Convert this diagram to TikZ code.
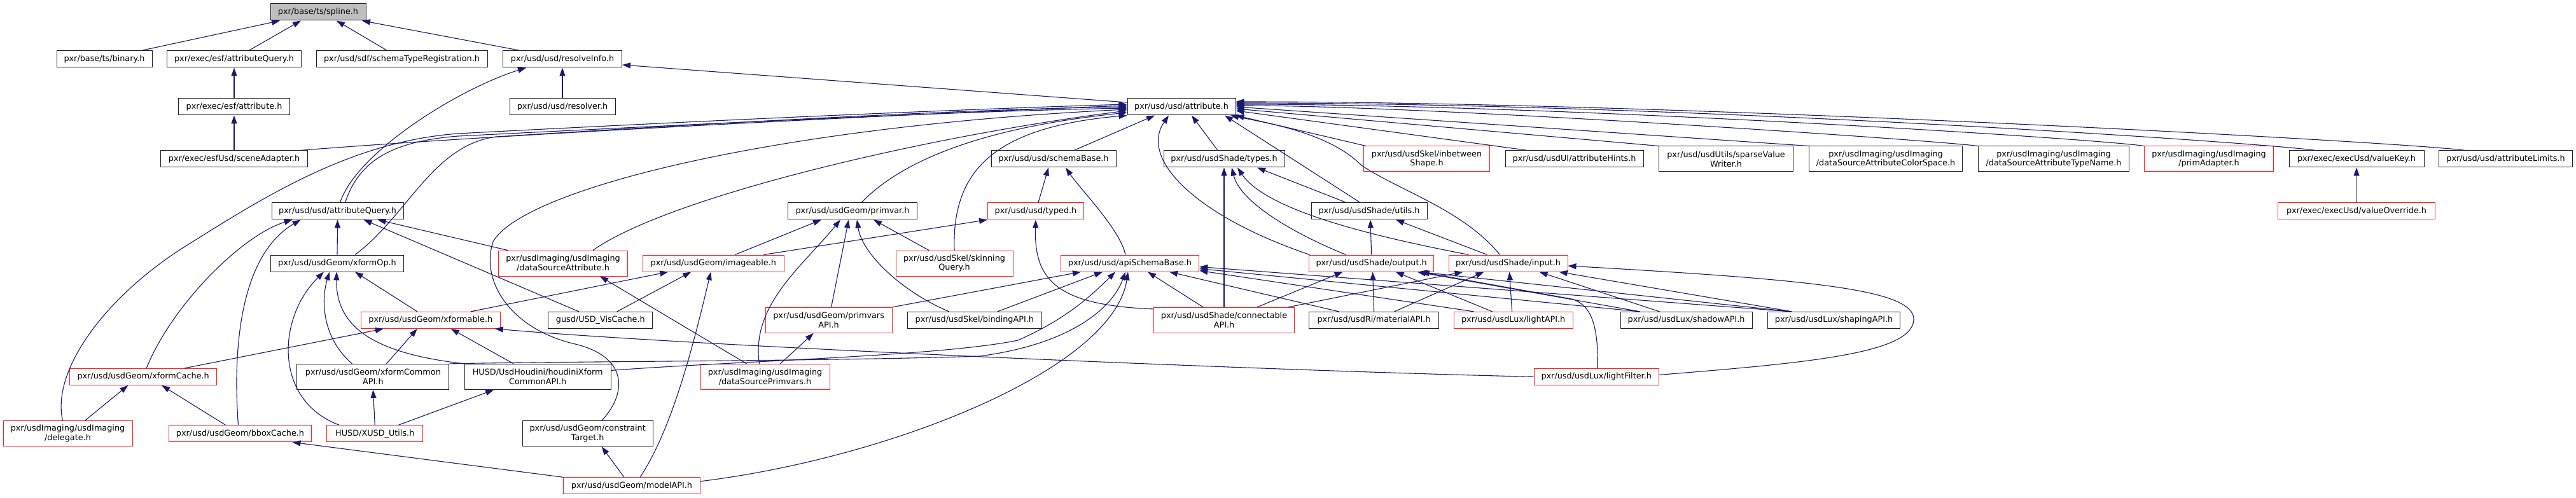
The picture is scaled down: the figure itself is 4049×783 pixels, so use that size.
\documentclass[tikz,border=0pt]{standalone}
\usepackage{fontspec}
\setmainfont{DejaVu Sans}
\usetikzlibrary{arrows.meta}
\definecolor{edgec}{HTML}{191970}
\definecolor{rootfill}{HTML}{BFBFBF}
\definecolor{redc}{HTML}{FF2020}
\definecolor{boxc}{HTML}{202020}
\begin{document}
\begin{tikzpicture}[x=1pt,y=-1pt,
  every node/.style={font=\fontsize{12.8pt}{14.7pt}\selectfont},
  box/.style={draw=boxc, fill=white, line width=1pt, inner xsep=3pt, inner ysep=0pt, minimum height=26pt, align=center},
  box2/.style={box, minimum height=40pt},
  redbox/.style={box, draw=redc},
  redbox2/.style={box2, draw=redc},
  rootbox/.style={box, fill=rootfill},
  dep/.style={draw=edgec, line width=1.1pt, -{Triangle[length=13pt,width=9pt]}}]
\useasboundingbox (0,0) rectangle (4049,783);
% row 1
\node[rootbox, minimum width=150pt] (spline) at (500,19) {pxr/base/ts/spline.h};
% row 2
\node[box, minimum width=150pt] (binary) at (164,93) {pxr/base/ts/binary.h};
\node[box, minimum width=211pt] (esfAQ) at (368,93) {pxr/exec/esf/attributeQuery.h};
\node[box, minimum width=269pt] (schemaReg) at (631.5,93) {pxr/usd/sdf/schemaTypeRegistration.h};
\node[box, minimum width=187pt] (resolveInfo) at (884,93) {pxr/usd/usd/resolveInfo.h};
% row 3
\node[box, minimum width=175pt] (esfAttr) at (368,168) {pxr/exec/esf/attribute.h};
\node[box, minimum width=166pt] (resolver) at (884,168) {pxr/usd/usd/resolver.h};
\node[box, minimum width=170pt] (attr) at (1857,168) {pxr/usd/usd/attribute.h};
% row 4
\node[box, minimum width=231pt] (sceneAd) at (368,250) {pxr/exec/esfUsd/sceneAdapter.h};
\node[box, minimum width=196pt] (schemaBase) at (1656,250) {pxr/usd/usd/schemaBase.h};
\node[box, minimum width=190pt] (shadeTypes) at (1924,250) {pxr/usd/usdShade/types.h};
\node[redbox2, minimum width=198pt] (inbetween) at (2242.5,250) {pxr/usd/usdSkel/inbetween\\Shape.h};
\node[box, minimum width=217pt] (attrHints) at (2474.6,250) {pxr/usd/usdUI/attributeHints.h};
\node[box2, minimum width=211pt] (sparse) at (2713,250) {pxr/usd/usdUtils/sparseValue\\Writer.h};
\node[box2, minimum width=241.5pt] (dsColor) at (2964,250) {pxr/usdImaging/usdImaging\\/dataSourceAttributeColorSpace.h};
\node[box2, minimum width=237.5pt] (dsType) at (3228,250) {pxr/usdImaging/usdImaging\\/dataSourceAttributeTypeName.h};
\node[redbox2, minimum width=203pt] (primAd) at (3472,250) {pxr/usdImaging/usdImaging\\/primAdapter.h};
\node[box, minimum width=212pt] (valueKey) at (3704,250) {pxr/exec/execUsd/valueKey.h};
\node[box, minimum width=210pt] (attrLimits) at (3938.5,250) {pxr/usd/usd/attributeLimits.h};
% row 5
\node[box, minimum width=207pt] (usdAQ) at (530.6,332) {pxr/usd/usd/attributeQuery.h};
\node[box, minimum width=203pt] (primvar) at (1340,332) {pxr/usd/usdGeom/primvar.h};
\node[redbox, minimum width=151pt] (typed) at (1628,332) {pxr/usd/usd/typed.h};
\node[box, minimum width=182pt] (shadeUtils) at (2152,332) {pxr/usd/usdShade/utils.h};
\node[redbox, minimum width=247pt] (valueOverride) at (3704,332) {pxr/exec/execUsd/valueOverride.h};
% row 6
\node[box, minimum width=209pt] (xformOp) at (530,414) {pxr/usd/usdGeom/xformOp.h};
\node[redbox2, minimum width=203pt] (dsAttr) at (885,414) {pxr/usdImaging/usdImaging\\/dataSourceAttribute.h};
\node[redbox, minimum width=222pt] (imageable) at (1121.3,414) {pxr/usd/usdGeom/imageable.h};
\node[redbox2, minimum width=184pt] (skinning) at (1500,414) {pxr/usd/usdSkel/skinning\\Query.h};
\node[redbox, minimum width=217.5pt] (apiSB) at (1776,414) {pxr/usd/usd/apiSchemaBase.h};
\node[redbox, minimum width=195.5pt] (output) at (2155.6,414) {pxr/usd/usdShade/output.h};
\node[redbox, minimum width=187pt] (input) at (2370.5,414) {pxr/usd/usdShade/input.h};
% row 7
\node[redbox, minimum width=219pt] (xformable) at (676.8,503.4) {pxr/usd/usdGeom/xformable.h};
\node[box, minimum width=164.3pt] (visCache) at (943.8,503.4) {gusd/USD\_VisCache.h};
\node[redbox2, minimum width=199pt] (primvarsAPI) at (1302.6,503.4) {pxr/usd/usdGeom/primvars\\API.h};
\node[box, minimum width=211.6pt] (bindingAPI) at (1531.8,503.4) {pxr/usd/usdSkel/bindingAPI.h};
\node[redbox2, minimum width=220.5pt] (connAPI) at (1924,503.4) {pxr/usd/usdShade/connectable\\API.h};
\node[box, minimum width=203.5pt] (materialAPI) at (2159.6,503.4) {pxr/usd/usdRi/materialAPI.h};
\node[redbox, minimum width=187pt] (lightAPI) at (2378.6,503.4) {pxr/usd/usdLux/lightAPI.h};
\node[box, minimum width=207pt] (shadowAPI) at (2650.5,503.4) {pxr/usd/usdLux/shadowAPI.h};
\node[box, minimum width=208pt] (shapingAPI) at (2882.5,503.4) {pxr/usd/usdLux/shapingAPI.h};
% row 8
\node[redbox, minimum width=231pt] (xformCache) at (225.2,592.4) {pxr/usd/usdGeom/xformCache.h};
\node[box2, minimum width=239pt] (xformCommon) at (586.4,592.4) {pxr/usd/usdGeom/xformCommon\\API.h};
\node[box2, minimum width=230.4pt] (houdini) at (845.2,592.4) {HUSD/UsdHoudini/houdiniXform\\CommonAPI.h};
\node[redbox2, minimum width=203pt] (dsPrimvars) at (1202.5,592.4) {pxr/usdImaging/usdImaging\\/dataSourcePrimvars.h};
\node[redbox, minimum width=196.4pt] (lightFilter) at (2509.2,592.4) {pxr/usd/usdLux/lightFilter.h};
% row 9
\node[redbox2, minimum width=203pt] (delegate) at (106.5,681.8) {pxr/usdImaging/usdImaging\\/delegate.h};
\node[redbox, minimum width=224.5pt] (bboxCache) at (377.5,681.8) {pxr/usd/usdGeom/bboxCache.h};
\node[redbox, minimum width=151pt] (xusd) at (589.3,681.8) {HUSD/XUSD\_Utils.h};
\node[box2, minimum width=205.4pt] (constraint) at (923.7,681.8) {pxr/usd/usdGeom/constraint\\Target.h};
% row 10
\node[redbox, minimum width=214.7pt] (modelAPI) at (993,763.8) {pxr/usd/usdGeom/modelAPI.h};

% ---- edges to spline
\draw[dep] ([xshift=58pt]binary.north) -- ([xshift=-60pt]spline.south);
\draw[dep] ([xshift=23pt]esfAQ.north) -- ([xshift=-27pt]spline.south);
\draw[dep] ([xshift=-23pt]schemaReg.north) -- ([xshift=29pt]spline.south);
\draw[dep] ([xshift=-66pt]resolveInfo.north) -- ([xshift=69pt]spline.south);
\draw[dep] (esfAttr.north) -- (esfAQ.south);
\draw[dep] (sceneAd.north) -- (esfAttr.south);
\draw[dep] (resolver.north) -- (resolveInfo.south);
\draw[dep] ([yshift=7pt]attr.west) -- ([yshift=-9pt]resolveInfo.east);
\draw[dep] ([xshift=4pt]usdAQ.north) .. controls (560,240) and (720,140) .. ([xshift=-57pt]resolveInfo.south);
% ---- edges to attribute (left)
\draw[dep] ([xshift=12pt]usdAQ.north) .. controls (565,250) and (620,222) .. (720,214) .. controls (1100,195) and (1500,175) .. ([yshift=-2pt]attr.west);
\draw[dep] ([xshift=103pt]sceneAd.north) .. controls (800,210) and (1500,176) .. ([yshift=2pt]attr.west);
\draw[dep] ([xshift=-8pt]delegate.north) .. controls (80,580) and (170,460) .. (303,380) .. controls (430,300) and (560,222) .. (720,210) .. controls (1100,190) and (1500,172) .. ([yshift=4pt]attr.west);
\draw[dep] ([xshift=28pt]xformOp.north) .. controls (640,340) and (680,228) .. (780,215) .. controls (1100,195) and (1500,172) .. (attr.west);
\draw[dep] ([xshift=22pt]constraint.north) .. controls (985,620) and (990,560) .. (900,540) .. controls (800,515) and (755,440) .. (775,380) .. controls (820,300) and (1200,200) .. ([yshift=-4pt]attr.west);
\draw[dep] ([xshift=47pt]dsAttr.north) .. controls (1050,310) and (1450,215) .. ([yshift=-6pt]attr.west);
\draw[dep] ([xshift=14pt]primvar.north) .. controls (1420,250) and (1550,200) .. ([yshift=-9pt]attr.west);
\draw[dep] (skinning.north) .. controls (1496,270) and (1560,200) .. (attr.south west);
% ---- edges to attribute (bottom)
\draw[dep] ([xshift=32pt]schemaBase.north) -- ([xshift=-42pt]attr.south);
\draw[dep] ([xshift=-10pt]shadeTypes.north) -- ([xshift=16pt]attr.south);
\draw[dep] ([xshift=-97pt]output.north) .. controls (1880,340) and (1790,250) .. ([xshift=-20pt]attr.south);
\draw[dep] ([xshift=-13pt]input.north) .. controls (2300,330) and (2200,300) .. (2140,260) .. controls (2090,210) and (2000,195) .. ([xshift=77pt]attr.south);
\draw[dep] ([xshift=-14pt]shadeUtils.north) -- ([xshift=68pt]attr.south);
\draw[dep] ([xshift=4pt]inbetween.north west) -- (attr.south east);
% ---- edges to attribute (right)
\draw[dep] ([xshift=-73pt]attrHints.north) -- ([yshift=-6pt]attr.east);
\draw[dep] (sparse.north west) -- ([yshift=-3pt]attr.east);
\draw[dep] (dsColor.north west) -- (attr.east);
\draw[dep] (dsType.north west) .. controls +(-80,-10) and +(300,0) .. ([yshift=2pt]attr.east);
\draw[dep] (primAd.north west) .. controls +(-80,-12) and +(500,0) .. ([yshift=4pt]attr.east);
\draw[dep] ([xshift=-64pt]valueKey.north) .. controls +(-80,-12) and +(700,0) .. ([yshift=6pt]attr.east);
\draw[dep] ([xshift=-63pt]attrLimits.north) .. controls +(-80,-12) and +(700,0) .. ([yshift=8pt]attr.east);
\draw[dep] (valueOverride.north) -- (valueKey.south);
% ---- usd attributeQuery
\draw[dep] (xformOp.north) -- (usdAQ.south);
\draw[dep] ([xshift=5pt]xformCache.north) .. controls (270,480) and (380,370) .. ([xshift=-71pt]usdAQ.south);
\draw[dep] ([xshift=-3pt]bboxCache.north) .. controls (365,540) and (380,400) .. ([xshift=-58pt]usdAQ.south);
\draw[dep] ([xshift=-34pt]visCache.north) -- ([xshift=41pt]usdAQ.south);
\draw[dep] ([xshift=-87pt]dsAttr.north) -- ([xshift=63pt]usdAQ.south);
% ---- xformOp
\draw[dep] ([xshift=-56pt]xusd.north) .. controls (430,630) and (435,500) .. ([xshift=-21pt]xformOp.south);
\draw[dep] ([xshift=-33pt]xformCommon.north) .. controls (505,530) and (505,470) .. ([xshift=-12pt]xformOp.south);
\draw[dep] ([xshift=-115pt]houdini.north) .. controls (580,555) and (528,510) .. ([xshift=-1pt]xformOp.south);
\draw[dep] ([xshift=-21pt]xformable.north) -- ([xshift=28pt]xformOp.south);
% ---- xformable
\draw[dep] ([xshift=65pt]xformCache.north) -- ([xshift=-74pt]xformable.south);
\draw[dep] ([xshift=21pt]xformCommon.north) -- ([xshift=-21pt]xformable.south);
\draw[dep] ([xshift=-38pt]houdini.north) -- ([xshift=32pt]xformable.south);
\draw[dep] (lightFilter.west) .. controls (2000,583) and (1100,545) .. ([xshift=101pt]xformable.south);
% ---- apiSchemaBase from the left
\draw[dep] ([yshift=10pt]houdini.east) .. controls (1150,568) and (1480,560) .. (1600,535) .. controls (1680,500) and (1720,460) .. ([xshift=-23pt]apiSB.south);
\draw[dep] (xformCommon.north east) .. controls (900,568) and (1300,568) .. (1540,560) .. controls (1690,540) and (1750,480) .. ([xshift=-7pt]apiSB.south);
\draw[dep] ([yshift=7pt]modelAPI.east) .. controls (1400,720) and (1750,580) .. ([xshift=-3pt]apiSB.south);
% ---- modelAPI
\draw[dep] (modelAPI.north west) -- ([xshift=82pt]bboxCache.south);
\draw[dep] ([xshift=-12pt]modelAPI.north) -- ([xshift=22pt]constraint.south);
\draw[dep] ([xshift=13pt]modelAPI.north) .. controls (1060,670) and (1095,520) .. ([xshift=-4pt]imageable.south);
% ---- imageable
\draw[dep] ([xshift=34pt]imageable.north) -- ([xshift=-49pt]primvar.south);
\draw[dep] ([xshift=79pt]imageable.north) -- (typed.south west);
\draw[dep] ([xshift=63pt]xformable.north) -- ([xshift=-71pt]imageable.south);
\draw[dep] ([xshift=26pt]visCache.north) -- ([xshift=-35pt]imageable.south);
% ---- primvar
\draw[dep] ([xshift=-9pt]dsPrimvars.north) .. controls (1180,480) and (1260,420) .. ([xshift=-19pt]primvar.south);
\draw[dep] ([xshift=4pt]primvarsAPI.north) -- ([xshift=-6pt]primvar.south);
\draw[dep] ([xshift=-40pt]bindingAPI.north) .. controls (1420,460) and (1355,400) .. ([xshift=7pt]primvar.south);
\draw[dep] ([xshift=-40pt]skinning.north) -- ([xshift=33pt]primvar.south);
% ---- typed, schemaBase
\draw[dep] ([xshift=4pt]typed.north) -- ([xshift=-8pt]schemaBase.south);
\draw[dep] ([yshift=-3pt]connAPI.north west) .. controls (1660,480) and (1625,440) .. (typed.south);
\draw[dep] ([xshift=-7pt]apiSB.north) .. controls (1760,360) and (1700,300) .. ([xshift=19pt]schemaBase.south);
% ---- usdShade types / utils
\draw[dep] (connAPI.north) -- (shadeTypes.south);
\draw[dep] ([xshift=-36pt]shadeUtils.north) -- ([xshift=52pt]shadeTypes.south);
\draw[dep] ([xshift=-40pt]output.north) .. controls (2040,370) and (1950,320) .. ([xshift=12pt]shadeTypes.south);
\draw[dep] ([xshift=-62pt]input.north) .. controls (2150,370) and (1990,330) .. ([xshift=21pt]shadeTypes.south);
\draw[dep] (output.north) -- ([xshift=2pt]shadeUtils.south);
\draw[dep] ([xshift=-33pt]input.north) -- ([xshift=42pt]shadeUtils.south);
% ---- apiSchemaBase from below
\draw[dep] (primvarsAPI.north east) -- ([xshift=-77pt]apiSB.south);
\draw[dep] ([xshift=36pt]bindingAPI.north) -- ([xshift=-43pt]apiSB.south);
\draw[dep] ([xshift=-33pt]connAPI.north) -- ([xshift=28pt]apiSB.south);
\draw[dep] ([xshift=-55pt]materialAPI.north) -- ([xshift=62pt]apiSB.south);
\draw[dep] ([xshift=-62pt]lightAPI.north) -- ([yshift=2pt]apiSB.south east);
\draw[dep] ([xshift=-73pt]shadowAPI.north) -- ([yshift=5pt]apiSB.south east);
\draw[dep] ([xshift=-67pt]shapingAPI.north) -- ([yshift=8pt]apiSB.south east);
% ---- output
\draw[dep] ([xshift=52pt]connAPI.north) -- ([xshift=-45pt]output.south);
\draw[dep] (materialAPI.north) -- ([xshift=2pt]output.south);
\draw[dep] ([xshift=-33pt]lightAPI.north) -- ([xshift=38pt]output.south);
\draw[dep] ([xshift=-73pt]shadowAPI.north) -- ([xshift=72pt]output.south);
\draw[dep] ([xshift=-67pt]shapingAPI.north) -- ([xshift=75pt]output.south);
\draw[dep] ([xshift=2pt]lightFilter.north) .. controls (2512,520) and (2505,480) .. (2470,470) -- ([xshift=78pt]output.south);
% ---- input
\draw[dep] ([xshift=101pt]connAPI.north) -- ([xshift=-71pt]input.south);
\draw[dep] ([xshift=32pt]materialAPI.north) -- ([xshift=-38pt]input.south);
\draw[dep] ([xshift=-2pt]lightAPI.north) -- ([xshift=2pt]input.south);
\draw[dep] ([xshift=-42pt]shadowAPI.north) -- ([xshift=49pt]input.south);
\draw[dep] ([xshift=-66pt]shapingAPI.north) -- ([xshift=80pt]input.south);
\draw[dep] ([yshift=3pt]lightFilter.east) .. controls (2850,570) and (3005,555) .. (3008,503) .. controls (3010,455) and (2850,440) .. ([yshift=-4pt]input.east);
% ---- dataSource
\draw[dep] ([xshift=-29pt]dsPrimvars.north) -- ([xshift=58pt]dsAttr.south);
\draw[dep] ([xshift=24pt]dsPrimvars.north) -- ([xshift=-24pt]primvarsAPI.south);
% ---- xformCache
\draw[dep] ([xshift=27pt]delegate.north) -- ([xshift=-24pt]xformCache.south);
\draw[dep] ([xshift=-23pt]bboxCache.north) -- ([xshift=29pt]xformCache.south);
% ---- XUSD_Utils
\draw[dep] (xusd.north) -- (xformCommon.south);
\draw[dep] ([xshift=37pt]xusd.north) -- ([xshift=-69pt]houdini.south);
\end{tikzpicture}
\end{document}
